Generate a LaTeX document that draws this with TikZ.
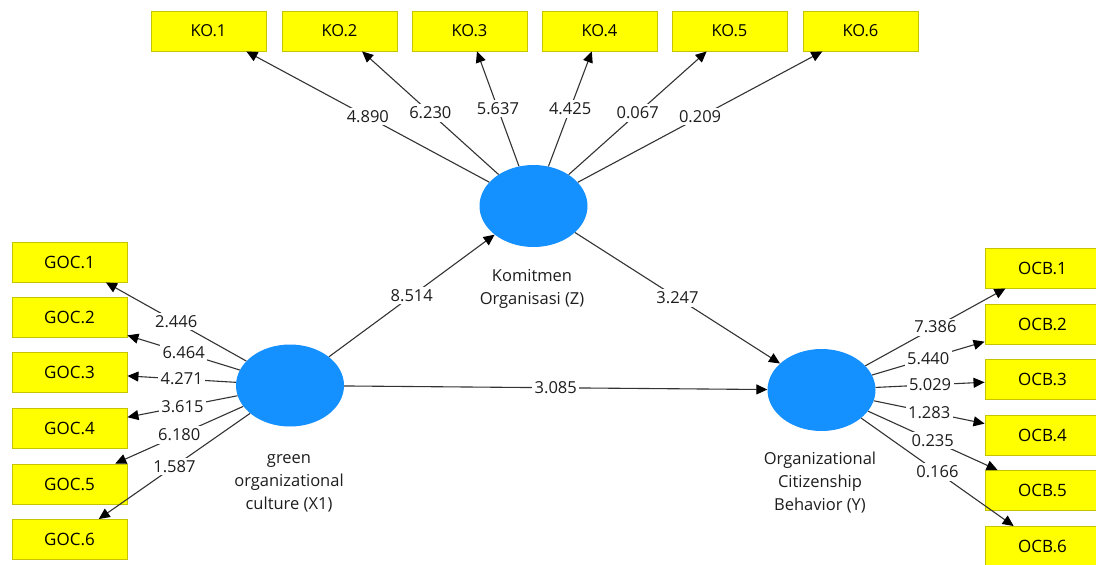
\documentclass[tikz,border=0pt]{standalone}
\usepackage{fontspec}
\setmainfont{Open Sans}
\usetikzlibrary{shapes.geometric,arrows.meta}
\definecolor{boxyellow}{HTML}{FFFF00}
\definecolor{boxborder}{HTML}{C4C400}
\definecolor{lvblue}{HTML}{1590FF}
\definecolor{edgegray}{HTML}{333333}
\definecolor{txt}{HTML}{1E1E1E}
\begin{document}
\begin{tikzpicture}[x=1pt,y=-1pt,
  ind/.style={draw=boxborder,line width=0.9pt,fill=boxyellow,minimum width=115pt,minimum height=40pt,inner sep=0pt,font=\fontsize{17}{20}\selectfont,text=black},
  koind/.style={ind,font=\fontsize{16.5}{20}\selectfont},
  lv/.style={ellipse,fill=lvblue,minimum width=108pt,minimum height=82pt,inner sep=0pt},
  lvlabel/.style={align=center,font=\fontsize{16.5}{23}\selectfont,text=txt},
  arr/.style={draw=edgegray,line width=1.1pt,-{Triangle[length=11pt,width=10pt,color=black]}},
  val/.style={fill=white,inner sep=2.5pt,font=\fontsize{16.5}{19}\selectfont,text=txt}]
\useasboundingbox (0,0) rectangle (1096,565);
\fill[white] (0,0) rectangle (1096,565);

% latent variables
\node[lv] (Z) at (533.5,206) {};
\node[lv] (X) at (290,385.5) {};
\node[lv] (Y) at (821.5,390) {};
\node[lvlabel] (Zl) at (532,288.5) {Komitmen\\Organisasi (Z)};
\node[lvlabel] (Xl) at (289,483) {green\\organizational\\culture (X1)};
\node[lvlabel] (Yl) at (820,483) {Organizational\\Citizenship\\Behavior (Y)};

% indicators KO
\node[koind] (ko1) at (208.5,31) {KO.1};
\node[koind] (ko2) at (339.5,31) {KO.2};
\node[koind] (ko3) at (469.5,31) {KO.3};
\node[koind] (ko4) at (599.5,31) {KO.4};
\node[koind] (ko5) at (729.5,31) {KO.5};
\node[koind] (ko6) at (860.5,31) {KO.6};

% indicators GOC
\node[ind] (g1) at (69.5,262) {GOC.1};
\node[ind] (g2) at (69.5,317.5) {GOC.2};
\node[ind] (g3) at (69.5,372.5) {GOC.3};
\node[ind] (g4) at (69.5,428.5) {GOC.4};
\node[ind] (g5) at (69.5,484) {GOC.5};
\node[ind] (g6) at (69.5,539.5) {GOC.6};

% indicators OCB
\node[ind] (o1) at (1042.5,268) {OCB.1};
\node[ind] (o2) at (1042.5,324.5) {OCB.2};
\node[ind] (o3) at (1042.5,379.5) {OCB.3};
\node[ind] (o4) at (1042.5,435.5) {OCB.4};
\node[ind] (o5) at (1042.5,490.5) {OCB.5};
\node[ind] (o6) at (1042.5,546.5) {OCB.6};

% edges
\draw[arr] (Z) -- coordinate[midway] (mk1) (ko1);
\draw[arr] (Z) -- coordinate[midway] (mk2) (ko2);
\draw[arr] (Z) -- coordinate[midway] (mk3) (ko3);
\draw[arr] (Z) -- coordinate[midway] (mk4) (ko4);
\draw[arr] (Z) -- coordinate[midway] (mk5) (ko5);
\draw[arr] (Z) -- coordinate[midway] (mk6) (ko6);

\draw[arr] (X) -- coordinate[midway] (mg1) (g1);
\draw[arr] (X) -- coordinate[midway] (mg2) (g2);
\draw[arr] (X) -- coordinate[midway] (mg3) (g3);
\draw[arr] (X) -- coordinate[midway] (mg4) (g4);
\draw[arr] (X) -- coordinate[midway] (mg5) (g5);
\draw[arr] (X) -- coordinate[midway] (mg6) (g6);

\draw[arr] (Y) -- coordinate[midway] (mo1) (o1);
\draw[arr] (Y) -- coordinate[midway] (mo2) (o2);
\draw[arr] (Y) -- coordinate[midway] (mo3) (o3);
\draw[arr] (Y) -- coordinate[midway] (mo4) (o4);
\draw[arr] (Y) -- coordinate[midway] (mo5) (o5);
\draw[arr] (Y) -- coordinate[midway] (mo6) (o6);

\draw[arr] (X) -- coordinate[midway] (mxz) (Z);
\draw[arr] (X) -- coordinate[midway] (mxy) (Y);
\draw[arr] (Z) -- coordinate[midway] (mzy) (Y);

% values
\node[val] at (mk1) {4.890};
\node[val] at (mk2) {6.230};
\node[val] at (mk3) {5.637};
\node[val] at (mk4) {4.425};
\node[val] at (mk5) {0.067};
\node[val] at (mk6) {0.209};

\node[val] at (mg1) {2.446};
\node[val] at (mg2) {6.464};
\node[val] at (mg3) {4.271};
\node[val] at (mg4) {3.615};
\node[val] at (mg5) {6.180};
\node[val] at (mg6) {1.587};

\node[val] at (mo1) {7.386};
\node[val] at (mo2) {5.440};
\node[val] at (mo3) {5.029};
\node[val] at (mo4) {1.283};
\node[val] at (mo5) {0.235};
\node[val] at (mo6) {0.166};

\node[val] at (mxz) {8.514};
\node[val] at (mxy) {3.085};
\node[val] at (mzy) {3.247};
\end{tikzpicture}
\end{document}
